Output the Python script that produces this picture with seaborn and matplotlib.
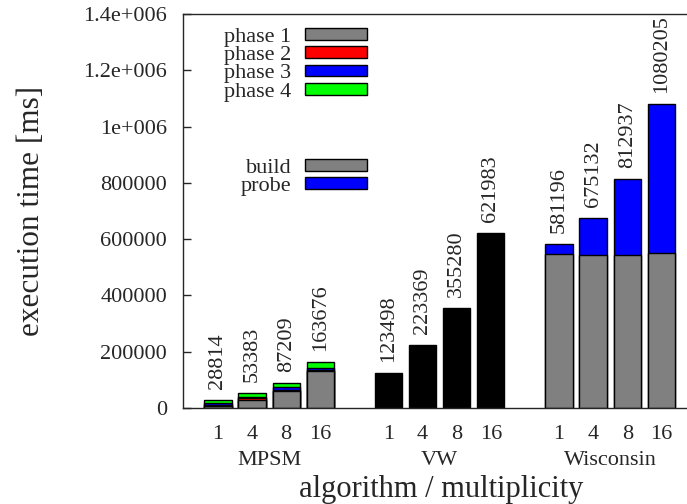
import numpy as np
import pandas as pd
import matplotlib
matplotlib.use("Agg")
import matplotlib.pyplot as plt
import seaborn as sns
from matplotlib.patches import Patch
from matplotlib.ticker import FixedLocator, FuncFormatter
from matplotlib.transforms import blended_transform_factory

# ---- data ----
algorithms = ["MPSM", "VW", "Wisconsin"]
multiplicities = ["1", "4", "8", "16"]

mpsm_phase1 = [7000, 29000, 61000, 133000]
mpsm_phase2 = [4000, 5000, 4000, 3000]
mpsm_phase3 = [5000, 6000, 8000, 7000]
mpsm_phase4 = [12814, 13383, 14209, 20676]

vw_total = [123498, 223369, 355280, 621983]

wis_build = [547000, 543000, 545000, 549000]
wis_probe = [34196, 132132, 267937, 531205]

GRAY, RED, BLUE, GREEN = "#808080", "#ff0000", "#0000ff", "#00ff00"

sns.set_style("white")
plt.rcParams["font.family"] = ["Liberation Serif", "DejaVu Serif"]
plt.rcParams["axes.linewidth"] = 1.0

fig = plt.figure(figsize=(6.87, 5.04), dpi=100)
ax = fig.add_axes([183 / 687, 96 / 504, 504 / 687, 394 / 504])

# bar positions: four multiplicities per algorithm, one empty slot between groups
pos = {alg: [g * 5 + i for i in range(len(multiplicities))] for g, alg in enumerate(algorithms)}


def draw_layer(x, heights, color):
    df = pd.DataFrame({"pos": x, "val": heights})
    sns.barplot(data=df, x="pos", y="val", native_scale=True, color=color,
                saturation=1, edgecolor="black", linewidth=1.0, width=0.8,
                errorbar=None, ax=ax)


# MPSM: stacked phases (drawn from the cumulative top down)
m1 = np.array(mpsm_phase1)
m2 = m1 + np.array(mpsm_phase2)
m3 = m2 + np.array(mpsm_phase3)
m4 = m3 + np.array(mpsm_phase4)
for layer, col in [(m4, GREEN), (m3, BLUE), (m2, RED), (m1, GRAY)]:
    draw_layer(pos["MPSM"], layer, col)

# VW: single black bars
draw_layer(pos["VW"], vw_total, "black")

# Wisconsin: build + probe
wb = np.array(wis_build)
wt = wb + np.array(wis_probe)
draw_layer(pos["Wisconsin"], wt, BLUE)
draw_layer(pos["Wisconsin"], wb, GRAY)

# value labels on top of every bar
totals = list(m4) + list(vw_total) + list(wt)
all_pos = pos["MPSM"] + pos["VW"] + pos["Wisconsin"]
for p, t in zip(all_pos, totals):
    ax.annotate(f"{int(t)}", xy=(p, t), xytext=(0, 8), textcoords="offset points",
                rotation=90, ha="center", va="bottom", fontsize=16)

# axes
ax.set_ylim(0, 1.4e6)
ax.set_xlim(-1.026, 13.754)
ax.yaxis.set_major_locator(FixedLocator(np.arange(0, 1.4e6 + 1, 200000)))


def fmt(v, _):
    if v >= 1e6:
        return f"{v / 1e6:g}e+006"
    return f"{int(v)}"


ax.yaxis.set_major_formatter(FuncFormatter(fmt))
ax.tick_params(axis="y", direction="in", length=6, width=1, pad=11.5, labelsize=16,
               left=True, right=False)
ax.set_xticks(all_pos)
ax.set_xticklabels(multiplicities * 3)
ax.tick_params(axis="x", length=0, pad=12, labelsize=16)
ax.spines["right"].set_visible(False)

trans = blended_transform_factory(ax.transData, ax.transAxes)
for alg in algorithms:
    ax.text(np.mean(pos[alg]), -0.132, alg, transform=trans, ha="center", va="center",
            fontsize=16)

ax.set_xlabel("algorithm / multiplicity", fontsize=22)
ax.xaxis.label.set_va("center")
ax.xaxis.set_label_coords(0.512, -0.206)
ax.set_ylabel("execution time [ms]", fontsize=22.5)
ax.yaxis.label.set_va("center")
ax.yaxis.set_label_coords(-0.30, 0.5)


# legends
def handles(items):
    return [Patch(facecolor=c, edgecolor="black", linewidth=1.0, label=l) for l, c in items]


legend_kw = dict(loc="upper right", frameon=False, markerfirst=False, fontsize=16,
                 handlelength=2.8, handleheight=0.45, labelspacing=-0.04, borderpad=0,
                 borderaxespad=0, handletextpad=0.6)
leg1 = ax.legend(handles=handles([("phase 1", GRAY), ("phase 2", RED),
                                  ("phase 3", BLUE), ("phase 4", GREEN)]),
                 bbox_to_anchor=(0.365, 0.964), **legend_kw)
ax.add_artist(leg1)
ax.legend(handles=handles([("build", GRAY), ("probe", BLUE)]),
          bbox_to_anchor=(0.365, 0.632), **legend_kw)

fig.savefig("out.png", dpi=100)
